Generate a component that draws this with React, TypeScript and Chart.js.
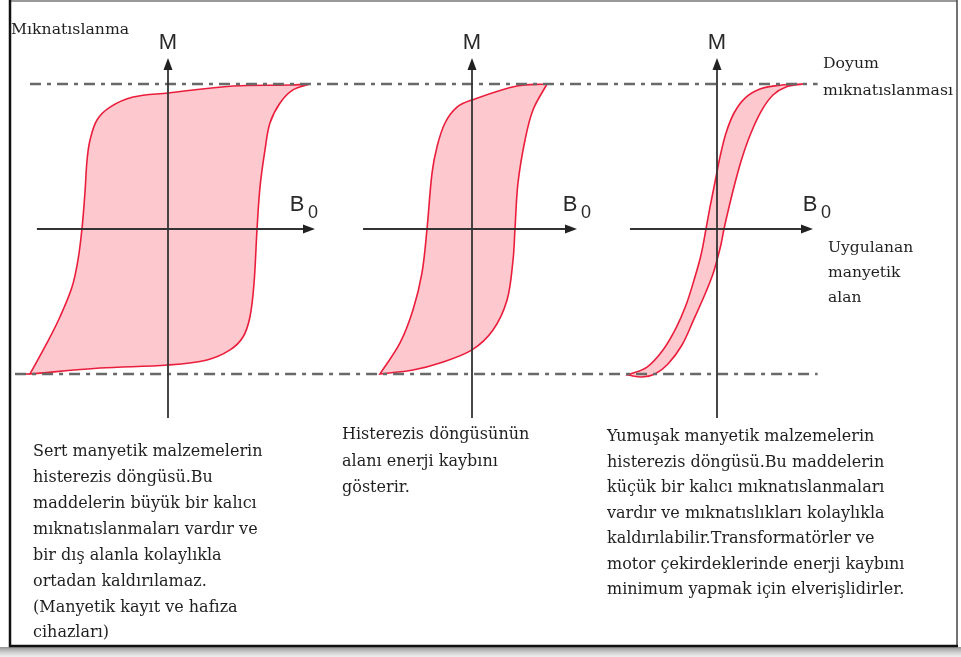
import { useEffect, useRef } from "react";
import { Chart, registerables } from "chart.js";

Chart.register(...registerables);

// ---- Data: B = applied field (loop tip = 1), M = magnetization (saturation = ±1) ----
// Hard magnetic material (wide loop)
const hardUpperB = [1.0, 0.859, 0.458, 0, -0.246, -0.408, -0.5, -0.549, -0.57, -0.585, -0.606, -0.634, -0.676, -0.761, -0.852, -0.972];
const hardUpperM = [1.0, 0.993, 0.986, 0.938, 0.91, 0.841, 0.752, 0.614, 0.476, 0.248, 0, -0.214, -0.4, -0.607, -0.786, -1.0];
const hardLowerB = [-0.972, -0.479, 0, 0.275, 0.437, 0.528, 0.577, 0.606, 0.627, 0.648, 0.683, 0.718, 0.789, 0.88, 1.0];
const hardLowerM = [-1.0, -0.959, -0.938, -0.903, -0.834, -0.745, -0.607, -0.372, 0, 0.29, 0.545, 0.731, 0.869, 0.959, 1.0];
const hardTailB = [-0.972, -1.077];
const hardTailM = [-1.0, -1.0];

// Medium loop (energy loss)
const midUpperB = [1.0, 0.6, 0, -0.2, -0.36, -0.467, -0.533, -0.6, -0.667, -0.787, -0.96, -1.227];
const midUpperM = [1.0, 0.986, 0.89, 0.841, 0.731, 0.566, 0.386, 0, -0.303, -0.559, -0.786, -1.0];
const midLowerB = [-1.227, -0.787, -0.427, 0, 0.28, 0.467, 0.547, 0.573, 0.613, 0.707, 0.813, 1.0];
const midLowerM = [-1.0, -0.972, -0.924, -0.834, -0.697, -0.49, -0.214, 0, 0.317, 0.614, 0.821, 1.0];

// Soft magnetic material (narrow loop)
const softUpperB = [1.0, 0.756, 0.5, 0.326, 0.198, 0.105, 0.035, -0.023, -0.081, -0.128, -0.186, -0.267, -0.36, -0.477, -0.628, -0.814, -1.035];
const softUpperM = [1.0, 0.993, 0.966, 0.903, 0.8, 0.662, 0.497, 0.324, 0.152, 0, -0.179, -0.352, -0.524, -0.683, -0.834, -0.952, -1.007];
const softLowerB = [-1.035, -0.872, -0.721, -0.570, -0.407, -0.267, -0.14, -0.047, 0, 0.047, 0.081, 0.140, 0.209, 0.291, 0.395, 0.523, 0.651, 0.802, 1.0];
const softLowerM = [-1.007, -1.021, -1.0, -0.931, -0.8, -0.62, -0.45, -0.31, -0.214, -0.105, 0, 0.152, 0.317, 0.490, 0.662, 0.821, 0.924, 0.979, 1.0];

const saturationLevels = [1, -1];

// ---- Texts ----
const yAxisTitle = "Mıknatıslanma";
const mLabel = "M";
const bLabel = "B";
const bSub = "0";
const saturationText = ["Doyum", "mıknatıslanması"];
const fieldText = ["Uygulanan", "manyetik", "alan"];
const hardText = [
  "Sert manyetik malzemelerin",
  "histerezis döngüsü.Bu",
  "maddelerin büyük bir kalıcı",
  "mıknatıslanmaları vardır ve",
  "bir dış alanla kolaylıkla",
  "ortadan kaldırılamaz.",
  "(Manyetik kayıt ve hafıza",
  "cihazları)",
];
const midText = ["Histerezis döngüsünün", "alanı enerji kaybını", "gösterir."];
const softText = [
  "Yumuşak manyetik malzemelerin",
  "histerezis döngüsü.Bu maddelerin",
  "küçük bir kalıcı mıknatıslanmaları",
  "vardır ve mıknatıslıkları kolaylıkla",
  "kaldırılabilir.Transformatörler ve",
  "motor çekirdeklerinde enerji kaybını",
  "minimum yapmak için elverişlidirler.",
];

// ---- Layout (pixels / styles) ----
const W = 961;
const H = 657;
const M_ZERO_PX = 229;
const M_UNIT_PX = 145;
const panels = [
  { id: "x1", center: 168, unit: 142, hMin: -0.923, hMax: 1.035, bLabelDx: -18 },
  { id: "x2", center: 472, unit: 75, hMin: -1.453, hMax: 1.4, bLabelDx: -7 },
  { id: "x3", center: 717, unit: 86, hMin: -1.012, hMax: 1.116, bLabelDx: -3 },
];
const V_TOP = 1.179;
const V_BOTTOM = -1.303;
const RED = "rgb(234, 30, 60)";
const PINK = "rgba(254, 198, 203, 0.95)";
const SERIF = "'DejaVu Serif', 'Liberation Serif', serif";
const SANS = "'Liberation Sans', Arial, sans-serif";
const TEXT = "#1f1f1f";

const zip = (b: number[], m: number[]) => b.map((x, i) => ({ x, y: m[i] }));

// corner (bottom-left tip) is kept as a duplicated point so the curve stays pointed there
const loopDataset = (ub: number[], um: number[], lb: number[], lm: number[], axis: string) => ({
  data: [...zip(ub, um), ...zip(lb, lm)],
  xAxisID: axis,
  yAxisID: "y",
  borderColor: RED,
  backgroundColor: PINK,
  borderWidth: 1.6,
  pointRadius: 0,
  tension: 0.35,
  fill: "shape",
});

const diagramPlugin = {
  id: "diagram",
  beforeDraw(chart: any) {
    const ctx = chart.ctx;
    ctx.save();
    ctx.fillStyle = "#ffffff";
    ctx.fillRect(0, 0, W, H);
    const g = ctx.createLinearGradient(0, 647, 0, H);
    g.addColorStop(0, "rgba(110,110,110,0.75)");
    g.addColorStop(1, "rgba(215,215,215,0.4)");
    ctx.fillStyle = g;
    ctx.fillRect(0, 647, W, H - 647);
    ctx.restore();
  },
  afterDatasetsDraw(chart: any) {
    const ctx = chart.ctx;
    const y = chart.scales.y;
    const s1 = chart.scales.x1;
    const s3 = chart.scales.x3;
    ctx.save();

    // saturation (dash-dot) lines
    ctx.strokeStyle = "rgb(105,105,105)";
    ctx.lineWidth = 2.5;
    ctx.setLineDash([11, 6, 4, 6]);
    saturationLevels.forEach((lvl, i) => {
      const py = y.getPixelForValue(lvl);
      const startB = i === 0 ? hardUpperB[hardUpperB.length - 1] : hardTailB[1];
      ctx.beginPath();
      ctx.moveTo(s1.getPixelForValue(startB), py);
      ctx.lineTo(s3.getPixelForValue(1.17), py);
      ctx.stroke();
    });
    ctx.setLineDash([]);

    // axes
    panels.forEach((p) => {
      const sc = chart.scales[p.id];
      const x0 = sc.getPixelForValue(0);
      const y0 = y.getPixelForValue(0);
      const yTop = y.getPixelForValue(V_TOP);
      const yBot = y.getPixelForValue(V_BOTTOM);
      const xL = sc.getPixelForValue(p.hMin);
      const xR = sc.getPixelForValue(p.hMax);
      ctx.strokeStyle = "#333";
      ctx.fillStyle = "#222";
      ctx.lineWidth = 1.8;
      ctx.beginPath();
      ctx.moveTo(x0, yBot);
      ctx.lineTo(x0, yTop + 8);
      ctx.moveTo(xL, y0);
      ctx.lineTo(xR - 8, y0);
      ctx.stroke();
      ctx.beginPath();
      ctx.moveTo(x0, yTop);
      ctx.lineTo(x0 - 4.5, yTop + 12);
      ctx.lineTo(x0 + 4.5, yTop + 12);
      ctx.closePath();
      ctx.fill();
      ctx.beginPath();
      ctx.moveTo(xR, y0);
      ctx.lineTo(xR - 12, y0 - 4.5);
      ctx.lineTo(xR - 12, y0 + 4.5);
      ctx.closePath();
      ctx.fill();

      ctx.fillStyle = "#2a2a2a";
      ctx.textAlign = "center";
      ctx.textBaseline = "middle";
      ctx.font = `22px ${SANS}`;
      ctx.fillText(mLabel, x0, yTop - 15);
      const bx = xR + p.bLabelDx;
      ctx.fillText(bLabel, bx, y0 - 24);
      ctx.font = `18px ${SANS}`;
      ctx.fillText(bSub, bx + 16, y0 - 16);
    });

    // serif texts
    ctx.fillStyle = TEXT;
    ctx.textAlign = "left";
    ctx.textBaseline = "middle";
    ctx.font = `15.7px ${SERIF}`;
    ctx.fillText(yAxisTitle, 11, 30);
    saturationText.forEach((t, i) => ctx.fillText(t, 823, 64 + i * 27));
    ctx.font = `15.5px ${SERIF}`;
    fieldText.forEach((t, i) => ctx.fillText(t, 828, 248 + i * 25));
    ctx.font = `16px ${SERIF}`;
    midText.forEach((t, i) => ctx.fillText(t, 342, 435 + i * 26.5));
    hardText.forEach((t, i) => ctx.fillText(t, 33, 452 + i * 25.9));
    softText.forEach((t, i) => ctx.fillText(t, 607, 437 + i * 25.5));

    ctx.restore();
  },
  afterDraw(chart: any) {
    const ctx = chart.ctx;
    ctx.save();
    ctx.strokeStyle = "#777";
    ctx.lineWidth = 1.5;
    ctx.beginPath();
    ctx.moveTo(9, 1);
    ctx.lineTo(957, 1);
    ctx.stroke();
    ctx.strokeStyle = "#444";
    ctx.beginPath();
    ctx.moveTo(957, 0);
    ctx.lineTo(957, 647);
    ctx.stroke();
    ctx.strokeStyle = "#111";
    ctx.lineWidth = 2.5;
    ctx.beginPath();
    ctx.moveTo(10, 0);
    ctx.lineTo(10, 646);
    ctx.lineTo(958, 646);
    ctx.stroke();
    ctx.restore();
  },
};

export default function App() {
  const ref = useRef<HTMLCanvasElement | null>(null);
  useEffect(() => {
    if (!ref.current) return;
    const scales: any = {
      y: {
        type: "linear",
        display: false,
        min: (M_ZERO_PX - H) / M_UNIT_PX,
        max: M_ZERO_PX / M_UNIT_PX,
      },
    };
    panels.forEach((p) => {
      scales[p.id] = {
        type: "linear",
        axis: "x",
        position: "bottom",
        display: false,
        min: -p.center / p.unit,
        max: (W - p.center) / p.unit,
      };
    });
    const chart = new Chart(ref.current, {
      type: "line",
      data: {
        datasets: [
          loopDataset(hardUpperB, hardUpperM, hardLowerB, hardLowerM, "x1"),
          {
            data: zip(hardTailB, hardTailM),
            xAxisID: "x1",
            yAxisID: "y",
            borderColor: RED,
            borderWidth: 1.6,
            pointRadius: 0,
            fill: false,
          },
          loopDataset(midUpperB, midUpperM, midLowerB, midLowerM, "x2"),
          loopDataset(softUpperB, softUpperM, softLowerB, softLowerM, "x3"),
        ] as any,
      },
      options: {
        animation: false,
        responsive: false,
        layout: { padding: 0 },
        scales,
        plugins: {
          legend: { display: false },
          tooltip: { enabled: false },
          title: { display: false },
        },
        events: [],
      } as any,
      plugins: [diagramPlugin],
    });
    return () => chart.destroy();
  }, []);
  return (
    <div style={{ position: "fixed", left: 0, top: 0, width: W, height: H, background: "#fff" }}>
      <canvas ref={ref} width={W} height={H} style={{ width: W, height: H, display: "block" }} />
    </div>
  );
}
